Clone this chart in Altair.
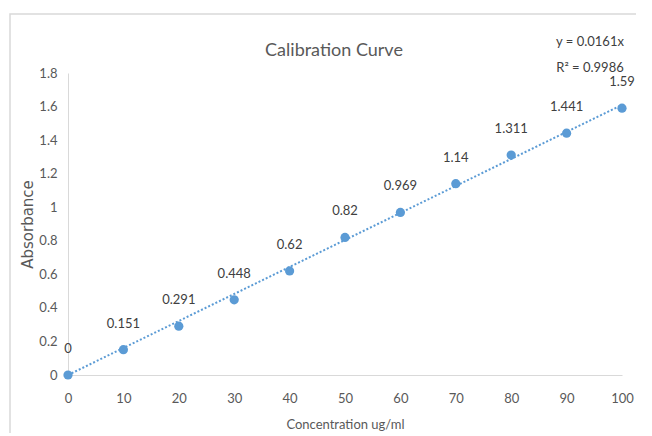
import altair as alt
import pandas as pd

conc = [0, 10, 20, 30, 40, 50, 60, 70, 80, 90, 100]
absorb = [0, 0.151, 0.291, 0.448, 0.62, 0.82, 0.969, 1.14, 1.311, 1.441, 1.59]
labels = ["0", "0.151", "0.291", "0.448", "0.62", "0.82", "0.969", "1.14", "1.311", "1.441", "1.59"]
y_ticks = [0, 0.2, 0.4, 0.6, 0.8, 1, 1.2, 1.4, 1.6, 1.8]
slope = 0.0161
r2 = 0.9986
trend_x = [0, 100]
title_text = "Calibration Curve"

FONT = "Lato, Open Sans, sans-serif"
GRAY = "#595959"
BLUE = "#5B9BD5"

df = pd.DataFrame({"conc": conc, "abs": absorb, "label": labels})
tdf = pd.DataFrame({"conc": trend_x, "abs": [slope * v for v in trend_x]})
one = pd.DataFrame({"k": [0]})

xs = alt.Scale(domain=[0, 100], nice=False)
ys = alt.Scale(domain=[0, 1.8], nice=False)

xax = alt.Axis(values=conc, ticks=False, grid=False, domainColor="#D9D9D9",
               labelColor=GRAY, labelFont=FONT, labelFontSize=13, labelPadding=17,
               labelFlush=False, labelOverlap=False,
               title="Concentration ug/ml", titleFont=FONT, titleFontSize=13,
               titleFontWeight="normal", titleColor=GRAY, titlePadding=13)
yax = alt.Axis(values=y_ticks, format="~g",
               ticks=False, grid=False, domainColor="#D9D9D9",
               labelColor=GRAY, labelFont=FONT, labelFontSize=13, labelPadding=11,
               labelFlush=False, labelOverlap=False,
               title="Absorbance", titleFont="DejaVu Sans", titleFontSize=15,
               titleFontWeight="normal", titleColor=GRAY, titlePadding=3)

X = alt.X("conc:Q", scale=xs, axis=xax)
Y = alt.Y("abs:Q", scale=ys, axis=yax)

frame = alt.Chart(one).mark_rect(fill=None, stroke="#D9D9D9", strokeWidth=1.5).encode(
    x=alt.value(-58), x2=alt.value(700), y=alt.value(-59), y2=alt.value(400)
)
trend = alt.Chart(tdf).mark_line(color=BLUE, strokeWidth=2, strokeDash=[2, 2]).encode(x=X, y=Y)
pts = alt.Chart(df).mark_circle(color=BLUE, size=85, opacity=1).encode(x=X, y=Y)
txt = alt.Chart(df).mark_text(font=FONT, fontSize=13, color="#404040", dy=-26).encode(
    x=X, y=Y, text="label:N"
)
ttl = alt.Chart(one).mark_text(font=FONT, fontSize=18, color=GRAY).encode(
    x=alt.value(266), y=alt.value(-22), text=alt.value(title_text)
)
eq1 = alt.Chart(one).mark_text(font=FONT, fontSize=13, color="#404040").encode(
    x=alt.value(522), y=alt.value(-31), text=alt.value(f"y = {slope}x")
)
eq2 = alt.Chart(one).mark_text(font=FONT, fontSize=13, color="#404040").encode(
    x=alt.value(522), y=alt.value(-5), text=alt.value(f"R² = {r2}")
)

chart = alt.layer(frame, trend, pts, txt, ttl, eq1, eq2).properties(
    width=554, height=302,
    autosize=alt.AutoSizeParams(type="none"),
    padding={"left": 60, "top": 65, "right": 14, "bottom": 58},
).configure_view(stroke=None)

chart.save("out.html", embed_options={"renderer": "svg", "actions": False})
